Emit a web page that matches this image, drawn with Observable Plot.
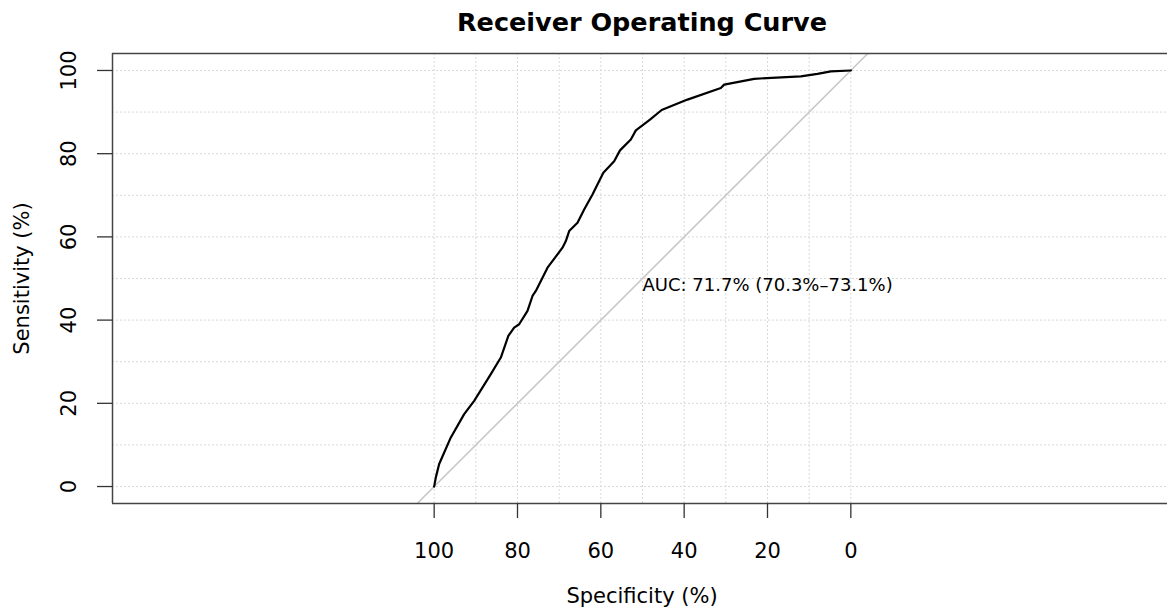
<!DOCTYPE html>
<html>
<head>
<meta charset="utf-8">
<script src="https://cdn.jsdelivr.net/npm/d3@7"></script>
<script src="https://cdn.jsdelivr.net/npm/@observablehq/plot@0.6"></script>
<style>
  html, body { margin: 0; padding: 0; background: #fff; overflow: hidden; }
  #chart { width: 1167px; height: 613px; }
</style>
</head>
<body>
<div id="chart"></div>
<script>
// ---- Data ----
const specificity = [100, 99.6, 98.8, 96, 92.8, 90.4, 86.4, 84, 82.2, 80.8, 79.6, 77.6, 76.4, 75.6, 72.8, 69.2, 68.4, 67.6, 65.6, 64, 62, 59.4, 56.8, 55.4, 54.8, 52.8, 51.6, 48.2, 45.4, 43.2, 39.2, 31.2, 30.4, 23.2, 12, 8, 4.8, 0];
const sensitivity = [0, 2.2, 5.4, 11.8, 17.4, 20.6, 27, 31, 36.2, 38.2, 39, 42.2, 45.8, 47, 52.6, 57.4, 59, 61.4, 63.4, 66.6, 70.2, 75.4, 78.2, 80.8, 81.4, 83.4, 85.6, 88.2, 90.5, 91.4, 93, 95.8, 96.6, 98, 98.6, 99.2, 99.8, 100];
const xTicks = [100, 80, 60, 40, 20, 0];
const yTicks = [0, 20, 40, 60, 80, 100];
const gridValues = [0, 10, 20, 30, 40, 50, 60, 70, 80, 90, 100];
const titleText = "Receiver Operating Curve";
const xLabel = "Specificity (%)";
const yLabel = "Sensitivity (%)";
const aucText = "AUC: 71.7% (70.3%\u201373.1%)";
const aucX = 50;
const aucY = 50;

// ---- Scales configuration ----
const xDomain = [177.2, -76.0];
const yDomain = [-4.08, 104.08];

const roc = specificity.map((s, i) => ({spec: s, sens: sensitivity[i]}));
const diagonal = [
  {spec: 100 - yDomain[0], sens: yDomain[0]},
  {spec: 100 - yDomain[1], sens: yDomain[1]}
];

const font = "DejaVu Sans";

const chart = Plot.plot({
  width: 1167,
  height: 613,
  marginLeft: 112,
  marginRight: 0,
  marginTop: 53,
  marginBottom: 110,
  style: {fontFamily: font, fontSize: "21px", background: "white", color: "#000"},
  x: {domain: xDomain, axis: null},
  y: {domain: yDomain, axis: null},
  marks: [
    // grid
    Plot.ruleY(gridValues, {stroke: "#d9d9d9", strokeWidth: 1, strokeDasharray: "2,2"}),
    Plot.ruleX(gridValues, {stroke: "#d9d9d9", strokeWidth: 1, strokeDasharray: "2,2"}),
    // chance diagonal
    Plot.line(diagonal, {x: "spec", y: "sens", stroke: "#c8c8c8", strokeWidth: 1.6, clip: true}),
    // ROC curve
    Plot.line(roc, {x: "spec", y: "sens", stroke: "#000", strokeWidth: 2.2, strokeLinejoin: "round"}),
    // box (top, bottom, left)
    Plot.ruleY(yDomain, {stroke: "#444", strokeWidth: 1.5}),
    Plot.ruleX([xDomain[0]], {stroke: "#444", strokeWidth: 1.5}),
    // x axis
    Plot.axisX(xTicks, {tickSize: 15, tickPadding: 25, fontSize: 21, label: null, stroke: "#333", strokeWidth: 1.3, tickFormat: d => String(d)}),
    // y axis ticks
    Plot.axisY(yTicks, {tickSize: 15, label: null, stroke: "#333", strokeWidth: 1.3, tickFormat: () => ""}),
    // y tick labels (rotated)
    Plot.text(yTicks, {y: d => d, text: d => String(d), frameAnchor: "left", dx: -43, rotate: -90, textAnchor: "middle", lineAnchor: "middle", fontSize: 21, fill: "#000"}),
    // axis labels
    Plot.text([xLabel], {frameAnchor: "bottom", dx: 2, dy: 93, lineAnchor: "middle", fontSize: 21, fill: "#000"}),
    Plot.text([yLabel], {frameAnchor: "left", dx: -90, rotate: -90, textAnchor: "middle", lineAnchor: "middle", fontSize: 21, fill: "#000"}),
    // title
    Plot.text([titleText], {frameAnchor: "top", dx: 2, dy: -31, lineAnchor: "middle", fontSize: 25.5, fontWeight: "bold", fill: "#000"}),
    // AUC annotation
    Plot.text([aucText], {x: () => aucX, y: () => aucY, textAnchor: "start", lineAnchor: "top", fontSize: 18, fill: "#000"})
  ]
});
document.getElementById("chart").appendChild(chart);
</script>
</body>
</html>
